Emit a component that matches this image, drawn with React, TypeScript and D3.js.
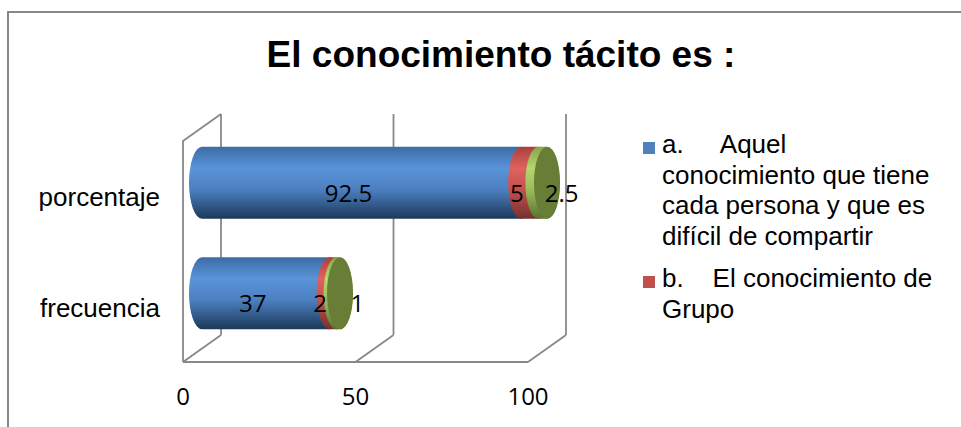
import * as d3 from 'd3';

// chart data
const categories = ['porcentaje', 'frecuencia'];
const seriesA = [92.5, 37];
const seriesB = [5, 2];
const seriesC = [2.5, 1];
const tickValues = [0, 50, 100];
const title = 'El conocimiento tácito es :';
const legendA = ['a.     Aquel', 'conocimiento que tiene', 'cada persona y que es', 'difícil de compartir'];
const legendB = ['b.    El conocimiento de', 'Grupo'];

const W = 961;
const H = 427;

// 3D frame: back wall plus a depth offset towards the viewer (left/down)
const DX = 38;
const DY = 27;
const backTop = 114;
const backBottom = 335;

const xBack = d3.scaleLinear().domain([0, 100]).range([221, 566]);
const xFront = (v: number) => xBack(v) - DX;
const xMid = (v: number) => xBack(v) - DX / 2;
const yBand = d3.scaleBand<string>().domain(categories).range([backTop, backBottom]);

const series = [
  { values: seriesA, grad: 'gA', stops: ['#3d6ca6', '#5a94d9', '#4b7fc0', '#1d3859'], cap: '#3a6aa5' },
  { values: seriesB, grad: 'gB', stops: ['#a8413e', '#e0625e', '#c4504c', '#77302d'], cap: '#b24744' },
  { values: seriesC, grad: 'gC', stops: ['#87a54a', '#b6d670', '#9bbb59', '#5b712f'], cap: '#687d35' },
];

const grey = '#888888';
const arial = '"Liberation Sans", Arial, sans-serif';
const calib = '"Open Sans", sans-serif';

// keep the runs of spaces in the legend labels
const keepSpaces = (s: string) => s.replace(/ /g, '\u00A0');

function segPath(x0: number, x1: number, top: number, bottom: number, rx: number, ry: number) {
  return `M${x0},${top}L${x1},${top}A${rx},${ry} 0 0 1 ${x1},${bottom}L${x0},${bottom}A${rx},${ry} 0 0 1 ${x0},${top}Z`;
}

export default function App() {
  const bw = yBand.bandwidth();
  const barH = bw * 0.65;
  const ry = barH / 2;
  const rx = 13;

  return (
    <svg width={W} height={H} style={{ position: 'absolute', left: 0, top: 0, background: '#fff' }}>
      <defs>
        {series.map((s) => (
          <linearGradient key={s.grad} id={s.grad} x1="0" y1="0" x2="0" y2="1">
            <stop offset="0" stopColor={s.stops[0]} />
            <stop offset="0.3" stopColor={s.stops[1]} />
            <stop offset="0.6" stopColor={s.stops[2]} />
            <stop offset="1" stopColor={s.stops[3]} />
          </linearGradient>
        ))}
      </defs>

      {/* chart border (cropped on the right and bottom) */}
      <rect x={8} y={12} width={1100} height={600} fill="none" stroke={grey} strokeWidth={2} />

      <text x={501} y={67} textAnchor="middle" fontFamily={arial} fontWeight="bold" fontSize={37}>
        {title}
      </text>

      {/* back wall gridlines */}
      {tickValues.map((t) => (
        <line key={'g' + t} x1={xBack(t)} x2={xBack(t)} y1={backTop} y2={backBottom} stroke={grey} strokeWidth={1.8} />
      ))}
      {/* left wall */}
      <path
        d={`M${xBack(0)},${backTop}L${xFront(0)},${backTop + DY}L${xFront(0)},${backBottom + DY}`}
        fill="none"
        stroke={grey}
        strokeWidth={1.8}
      />
      {/* floor */}
      <line x1={xFront(0)} x2={xFront(100)} y1={backBottom + DY} y2={backBottom + DY} stroke={grey} strokeWidth={1.8} />
      {tickValues.map((t) => (
        <line key={'f' + t} x1={xBack(t)} y1={backBottom} x2={xFront(t)} y2={backBottom + DY} stroke={grey} strokeWidth={1.8} />
      ))}

      {/* cylinders */}
      {categories.map((c, ci) => {
        const cy = (yBand(c) ?? 0) + bw / 2 + DY / 2;
        const top = cy - ry;
        const bottom = cy + ry;
        let acc = 0;
        const segs = series.map((s) => {
          const v = s.values[ci];
          const seg = { x0: acc, x1: acc + v, v, s };
          acc += v;
          return seg;
        });
        const last = segs[segs.length - 1];
        return (
          <g key={c}>
            {segs.map((g, i) => (
              <path key={i} d={segPath(xMid(g.x0), xMid(g.x1), top, bottom, rx, ry)} fill={`url(#${g.s.grad})`} />
            ))}
            <ellipse cx={xMid(last.x1)} cy={cy} rx={rx} ry={ry} fill={last.s.cap} />
            {segs.map((g, i) => {
              const center = (g.x0 + g.x1) / 2;
              const lx = i === segs.length - 1 ? xBack(center) : xFront(center) + 6;
              return (
                <text key={'l' + i} x={lx} y={cy + 19} textAnchor="middle" fontFamily={calib} fontSize={24} fill="#000">
                  {g.v}
                </text>
              );
            })}
            <text x={160} y={cy + DY / 2 + 10} textAnchor="end" fontFamily={arial} fontSize={26} fill="#000">
              {c}
            </text>
          </g>
        );
      })}

      {/* x axis labels */}
      {tickValues.map((t) => (
        <text key={'t' + t} x={xFront(t)} y={405} textAnchor="middle" fontFamily={calib} fontSize={24} fill="#000">
          {t}
        </text>
      ))}

      {/* legend */}
      <g fontFamily={arial} fontSize={26} fill="#000">
        <rect x={643} y={142} width={12} height={12} fill="#4f81bd" />
        {legendA.map((s, i) => (
          <text key={'a' + i} x={662} y={153 + i * 30.5}>
            {keepSpaces(s)}
          </text>
        ))}
        <rect x={643} y={276} width={12} height={12} fill="#c0504d" />
        {legendB.map((s, i) => (
          <text key={'b' + i} x={662} y={287 + i * 30.5}>
            {keepSpaces(s)}
          </text>
        ))}
      </g>
    </svg>
  );
}
